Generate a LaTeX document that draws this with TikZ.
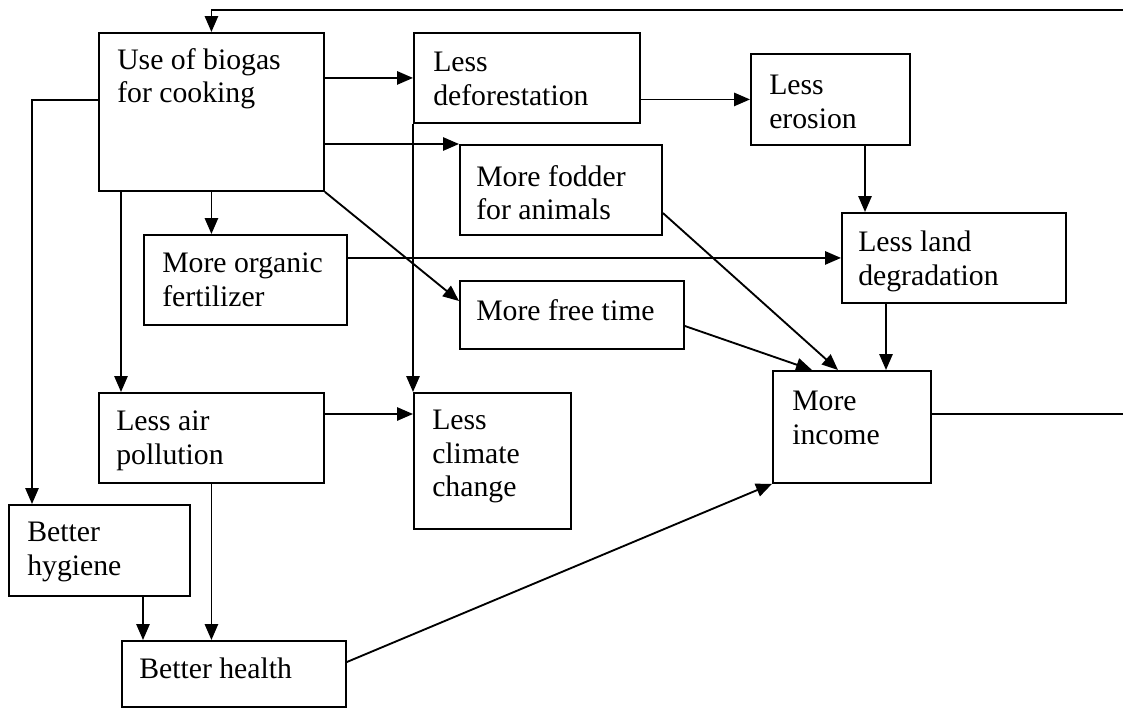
\documentclass[tikz,border=0pt]{standalone}
\usepackage{fontspec}
\setmainfont{Liberation Serif}
\usetikzlibrary{arrows.meta,calc}

\tikzset{
  blk/.style={draw, line width=1.4pt, anchor=north west, inner sep=0pt},
  txt/.style={anchor=north west, inner sep=0pt, align=left, font=\fontsize{22.3}{25.1}\selectfont},
  arr/.style={line width=1.4pt, -{Triangle[length=12pt,width=10pt]}}
}

\begin{document}
\begin{tikzpicture}[x=0.75pt,y=0.75pt,yscale=-1,xscale=1]
\useasboundingbox (0,0) rectangle (1123,707);

%Shape: Rectangle
\node[blk, minimum width=225*0.75pt, minimum height=158*0.75pt] (bio) at (98,32) {};
\node[blk, minimum width=226*0.75pt, minimum height=90*0.75pt] (defo) at (413,32) {};
\node[blk, minimum width=159*0.75pt, minimum height=91*0.75pt] (eros) at (750,53) {};
\node[blk, minimum width=202*0.75pt, minimum height=90*0.75pt] (fodder) at (459,144) {};
\node[blk, minimum width=224*0.75pt, minimum height=90*0.75pt] (land) at (841,212) {};
\node[blk, minimum width=203*0.75pt, minimum height=90*0.75pt] (organic) at (143,234) {};
\node[blk, minimum width=224*0.75pt, minimum height=68*0.75pt] (free) at (459,280) {};
\node[blk, minimum width=158*0.75pt, minimum height=112*0.75pt] (income) at (772,370) {};
\node[blk, minimum width=225*0.75pt, minimum height=90*0.75pt] (air) at (98,392) {};
\node[blk, minimum width=157*0.75pt, minimum height=136*0.75pt] (climate) at (413,392) {};
\node[blk, minimum width=181*0.75pt, minimum height=91*0.75pt] (hyg) at (8,504) {};
\node[blk, minimum width=224*0.75pt, minimum height=66*0.75pt] (health) at (121,640) {};

% Text Node
\node[txt] (bio-t) at ($(bio.north west)+(19,16)$) {Use of biogas\\for cooking};
\node[txt] (defo-t) at ($(defo.north west)+(20,20)$) {Less\\deforestation};
\node[txt] (eros-t) at ($(eros.north west)+(19,22)$) {Less\\erosion};
\node[txt] (fodder-t) at ($(fodder.north west)+(17,21)$) {More fodder\\for animals};
\node[txt] (land-t) at ($(land.north west)+(17,19)$) {Less land\\degradation};
\node[txt] (organic-t) at ($(organic.north west)+(19,19)$) {More organic\\fertilizer};
\node[txt] (free-t) at ($(free.north west)+(17,19)$) {More free time};
\node[txt] (income-t) at ($(income.north west)+(20,21)$) {More\\income};
\node[txt] (air-t) at ($(air.north west)+(18,19)$) {Less air\\pollution};
\node[txt] (climate-t) at ($(climate.north west)+(19,18)$) {Less\\climate\\change};
\node[txt] (hyg-t) at ($(hyg.north west)+(19,18)$) {Better\\hygiene};
\node[txt] (health-t) at ($(health.north west)+(18,18)$) {Better health};

%Straight Lines
\draw[arr] (bio.east |- defo.west) -- (defo.west);
\draw[arr] (defo.east |- eros.west) -- (eros.west);
\draw[arr] (bio.east |- fodder.north west) -- (fodder.north west);
\draw[arr] (bio.south) -- (bio.south |- organic.north);
\draw[arr] (bio.south east) -- ($(free.north west)+(0,21)$);
\draw[arr] ($(bio.south west)+(23,0)$) -- ($(air.north west)+(23,0)$);
\draw[arr] ($(bio.north west)+(0,68)$) -| ($(hyg.north west)+(24,0)$);
\draw[arr] (defo.south west) -- (climate.north west);
\draw[arr] (organic.east |- land.west) -- (land.west);
\draw[arr] ($(eros.south west)+(115,0)$) -- ($(land.north west)+(24,0)$);
\draw[arr] ($(land.south west)+(45,0)$) -- ($(income.north west)+(114,0)$);
\draw[arr] ($(fodder.north east)+(0,69)$) -- ($(income.north west)+(66,0)$);
\draw[arr] ($(free.north east)+(0,46)$) -- ($(income.north west)+(40,0)$);
\draw[arr] ($(air.north east)+(0,22)$) -- ($(climate.north west)+(0,22)$);
\draw[arr] (air.south) -- (air.south |- health.north);
\draw[arr] ($(hyg.south west)+(135,0)$) -- ($(health.north west)+(22,0)$);
\draw[arr] ($(health.north east)+(0,22)$) -- (income.south west);

%Feedback loop
\coordinate (fbR) at (1127,10);
\draw[arr] ($(income.north east)+(0,44)$) -| (fbR) -| (bio.north);

\end{tikzpicture}
\end{document}
